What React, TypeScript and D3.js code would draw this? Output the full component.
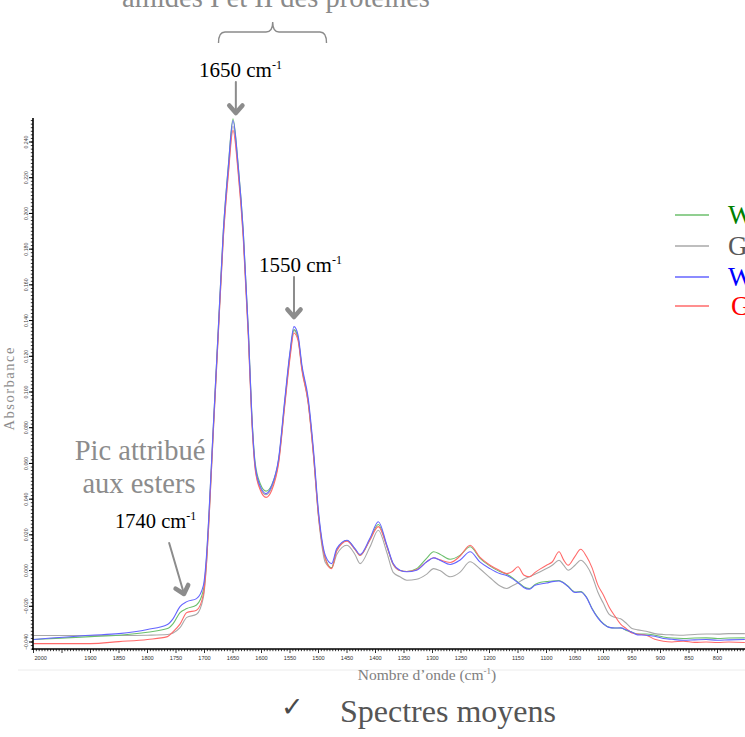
import React, { useEffect, useRef } from "react";
import * as d3 from "d3";

const WAVENUMBERS = [2000, 1900, 1850, 1800, 1765, 1755, 1743, 1731, 1714, 1702, 1696, 1692, 1685, 1676, 1667, 1658, 1650, 1641, 1632, 1623, 1617, 1611, 1602, 1592, 1582, 1570, 1559, 1550, 1543, 1536, 1529, 1518, 1509, 1500, 1496, 1488, 1477, 1468, 1450, 1436, 1427, 1410, 1395, 1380, 1369, 1357, 1345, 1328, 1310, 1298, 1287, 1269, 1252, 1234, 1217, 1199, 1182, 1170, 1160, 1150, 1140, 1130, 1120, 1110, 1100, 1090, 1078, 1070, 1062, 1050, 1040, 1030, 1020, 1010, 1000, 990, 980, 970, 960, 950, 940, 925, 910, 895, 880, 860, 840, 820, 800, 780, 752];

const SERIES_BLUE = [-0.0386, -0.0362, -0.0353, -0.033, -0.0302, -0.0269, -0.0202, -0.0174, -0.0157, -0.0084, 0.0106, 0.033, 0.0778, 0.1338, 0.1898, 0.2268, 0.252, 0.2268, 0.1898, 0.1338, 0.0868, 0.0588, 0.047, 0.0431, 0.0476, 0.0627, 0.0963, 0.1226, 0.1366, 0.132, 0.1148, 0.0963, 0.0683, 0.033, 0.0218, 0.0084, 0.0039, 0.0123, 0.017, 0.0123, 0.009, 0.0179, 0.0273, 0.0142, 0.0039, 0.0002, -0.0007, 0.0002, 0.0049, 0.0071, 0.0058, 0.0034, 0.0058, 0.0105, 0.0049, 0.0011, -0.0017, -0.0028, -0.0045, -0.0068, -0.0095, -0.0105, -0.0082, -0.0075, -0.007, -0.0062, -0.0058, -0.007, -0.009, -0.0122, -0.012, -0.015, -0.0215, -0.0265, -0.03, -0.0318, -0.0322, -0.0321, -0.0332, -0.0346, -0.036, -0.0362, -0.0368, -0.038, -0.0385, -0.039, -0.0388, -0.0386, -0.039, -0.0388, -0.0386];

const SERIES_GREEN = [-0.0386, -0.037, -0.0362, -0.0345, -0.0325, -0.0297, -0.0235, -0.0213, -0.0193, -0.011, 0.009, 0.032, 0.0775, 0.134, 0.19, 0.2275, 0.253, 0.2275, 0.19, 0.134, 0.0875, 0.06, 0.0485, 0.0445, 0.048, 0.062, 0.095, 0.1215, 0.135, 0.1305, 0.1135, 0.0945, 0.0665, 0.0315, 0.0205, 0.007, 0.0015, 0.0115, 0.0168, 0.012, 0.0085, 0.0172, 0.0258, 0.0135, 0.0035, 0.0, -0.0005, 0.001, 0.007, 0.0105, 0.0092, 0.0063, 0.0085, 0.0133, 0.007, 0.0025, -0.0005, -0.002, -0.004, -0.0065, -0.009, -0.01, -0.0078, -0.0065, -0.0062, -0.0058, -0.0056, -0.0068, -0.0088, -0.012, -0.0118, -0.0148, -0.0212, -0.0262, -0.0298, -0.0318, -0.0322, -0.0322, -0.0335, -0.0345, -0.0355, -0.0355, -0.0362, -0.0372, -0.0378, -0.038, -0.0378, -0.0377, -0.038, -0.0378, -0.0377];

const SERIES_RED = [-0.0409, -0.0409, -0.0398, -0.0386, -0.037, -0.0342, -0.03, -0.0235, -0.0222, -0.0134, 0.0067, 0.029, 0.075, 0.131, 0.186, 0.2225, 0.2465, 0.223, 0.186, 0.13, 0.084, 0.0565, 0.045, 0.041, 0.045, 0.06, 0.093, 0.119, 0.133, 0.129, 0.112, 0.0935, 0.065, 0.0305, 0.02, 0.0065, 0.0011, 0.011, 0.0165, 0.0118, 0.0085, 0.017, 0.0246, 0.0135, 0.0035, 0.0, -0.0005, 0.0005, 0.005, 0.0072, 0.006, 0.0045, 0.008, 0.0142, 0.0075, 0.003, 0.0, -0.0017, -0.0005, 0.0021, -0.0025, -0.0035, -0.001, 0.0011, 0.003, 0.0048, 0.0105, 0.006, 0.003, 0.008, 0.0119, 0.008, 0.0015, -0.008, -0.0138, -0.0205, -0.0255, -0.03, -0.0325, -0.035, -0.0356, -0.0362, -0.0385, -0.0396, -0.04, -0.0395, -0.0402, -0.04, -0.0403, -0.04, -0.0403];

const SERIES_GRAY = [-0.0364, -0.0364, -0.0364, -0.0362, -0.0358, -0.035, -0.032, -0.0262, -0.0245, -0.015, 0.006, 0.029, 0.075, 0.1315, 0.187, 0.224, 0.249, 0.2245, 0.1875, 0.1315, 0.085, 0.0575, 0.046, 0.0425, 0.0465, 0.061, 0.094, 0.1205, 0.1345, 0.13, 0.113, 0.094, 0.0655, 0.03, 0.0185, 0.0045, 0.0015, 0.009, 0.0142, 0.009, 0.0039, 0.013, 0.0226, 0.01, -0.001, -0.0035, -0.0054, -0.0049, -0.002, 0.0011, 0.0, -0.0035, -0.001, 0.0049, 0.001, -0.004, -0.0085, -0.01, -0.0085, -0.0068, -0.0048, -0.0035, -0.002, -0.0005, 0.0011, 0.003, 0.0058, 0.003, 0.0002, 0.003, 0.0058, 0.003, -0.003, -0.012, -0.0185, -0.0245, -0.0262, -0.027, -0.0295, -0.0325, -0.0332, -0.034, -0.0353, -0.0358, -0.036, -0.0362, -0.0358, -0.0355, -0.0356, -0.0353, -0.0353];

const Y_TICKS = [-0.04, -0.02, 0.0, 0.02, 0.04, 0.06, 0.08, 0.1, 0.12, 0.14, 0.16, 0.18, 0.2, 0.22, 0.24];
const X_TICK_LABELS = [2000, 1900, 1850, 1800, 1750, 1700, 1650, 1600, 1550, 1500, 1450, 1400, 1350, 1300, 1250, 1200, 1150, 1100, 1050, 1000, 950, 900, 850, 800];

const LEGEND_LABELS = ["W", "G", "W", "G"];
const LEGEND_TEXT_COLORS = ["#008000", "#595959", "#0000ff", "#ff0000"];
const LINE_COLORS = ["#6cbf6c", "#a8a8a8", "#6464ff", "#ff6a6a"];

const W = 745;
const H = 737;
const SERIF = "'Liberation Serif', 'Times New Roman', serif";
const SANS = "'Liberation Sans', Arial, sans-serif";

export default function App() {
  const axRef = useRef<SVGGElement | null>(null);

  const x = d3.scaleLinear().domain([2000, 750]).range([33.5, 746]);
  const y = d3.scaleLinear().domain([-0.04, 0.24]).range([642, 142]);

  const series = [SERIES_GREEN, SERIES_GRAY, SERIES_BLUE, SERIES_RED];
  const drawOrder = [1, 0, 3, 2];

  const line = d3
    .line<[number, number]>()
    .x((d) => x(d[0]))
    .y((d) => y(d[1]))
    .curve(d3.curveMonotoneX);

  useEffect(() => {
    const g = d3.select(axRef.current);
    g.selectAll("*").remove();
    // x axis
    const xMinor = d3.range(2000, 749, -5);
    const xa = g.append("g").attr("transform", "translate(0,649)");
    xa.append("line").attr("x1", 32).attr("x2", 745).attr("stroke", "#000").attr("stroke-width", 1.6);
    xa.selectAll("line.minor")
      .data(xMinor)
      .enter()
      .append("line")
      .attr("x1", (d) => x(d))
      .attr("x2", (d) => x(d))
      .attr("y1", 0)
      .attr("y2", (d) => (d % 50 === 0 ? 4 : 2.2))
      .attr("stroke", "#000")
      .attr("stroke-width", 0.8);
    xa.selectAll("text")
      .data(X_TICK_LABELS)
      .enter()
      .append("text")
      .attr("x", (d) => (d === 2000 ? x(d) + 1 : x(d)))
      .attr("y", 11)
      .attr("text-anchor", (d) => (d === 2000 ? "start" : "middle"))
      .attr("font-family", SANS)
      .attr("font-size", 5.6)
      .attr("fill", "#333")
      .text((d) => String(d));

    // y axis
    const ya = g.append("g").attr("transform", "translate(33,0)");
    ya.append("line").attr("y1", 118).attr("y2", 650).attr("stroke", "#000").attr("stroke-width", 1.6);
    const yMinor = d3.range(-0.044, 0.2535, 0.002);
    ya.selectAll("line.minor")
      .data(yMinor)
      .enter()
      .append("line")
      .attr("y1", (d) => y(d))
      .attr("y2", (d) => y(d))
      .attr("x1", 0)
      .attr("x2", -2.2)
      .attr("stroke", "#000")
      .attr("stroke-width", 0.8);
    ya.selectAll("line.major")
      .data(Y_TICKS)
      .enter()
      .append("line")
      .attr("y1", (d) => y(d))
      .attr("y2", (d) => y(d))
      .attr("x1", 0)
      .attr("x2", -4)
      .attr("stroke", "#000")
      .attr("stroke-width", 1);
    const fmt = d3.format(".3f");
    ya.selectAll("text")
      .data(Y_TICKS)
      .enter()
      .append("text")
      .attr("transform", (d) => `translate(-5.5,${y(d)}) rotate(-90)`)
      .attr("text-anchor", "middle")
      .attr("font-family", SANS)
      .attr("font-size", 5.2)
      .attr("fill", "#444")
      .text((d) => fmt(d));
  }, []);

  const arrowHead = (tx: number, ty: number, dx: number, dy: number, len: number, spread: number) => {
    const a = Math.atan2(dy, dx);
    const p1 = [tx - len * Math.cos(a - spread), ty - len * Math.sin(a - spread)];
    const p2 = [tx - len * Math.cos(a + spread), ty - len * Math.sin(a + spread)];
    return `M${p1[0]},${p1[1]} L${tx},${ty} L${p2[0]},${p2[1]}`;
  };

  const a1650x = x(1645);
  const a1550x = x(1543);
  const a1740tip: [number, number] = [x(1736), 594];
  const a1740tail: [number, number] = [x(1762), 543];

  const legendY = [215, 246, 277, 306];

  return (
    <svg
      width={W}
      height={H}
      style={{ position: "absolute", left: 0, top: 0, background: "#fff", overflow: "hidden" }}
    >
      <rect width={W} height={H} fill="#fff" />
      {/* title (cut off at the top, as in the source slide) */}
      <text x={276} y={7} textAnchor="middle" fontFamily={SERIF} fontSize={28.5} fill="#8a8a8a">
        amides I et II des protéines
      </text>
      <path
        d="M218.5,43 Q218.5,32 225,32 L266,32 Q272.7,32 272.7,22 Q272.7,32 279,32 L320,32 Q326.5,32 326.5,43"
        fill="none"
        stroke="#8a8a8a"
        strokeWidth={1.4}
      />
      <text x={199} y={77} fontFamily={SERIF} fontSize={21} fill="#000">
        1650 cm<tspan fontSize={12} dy={-8}>-1</tspan>
      </text>
      <text x={259} y={272} fontFamily={SERIF} fontSize={21} fill="#000">
        1550 cm<tspan fontSize={12} dy={-8}>-1</tspan>
      </text>
      <text x={115} y={528} fontFamily={SERIF} fontSize={20.5} fill="#000">
        1740 cm<tspan fontSize={12} dy={-8}>-1</tspan>
      </text>
      <text x={140} y={460} textAnchor="middle" fontFamily={SERIF} fontSize={28.5} fill="#8c8c8c">
        Pic attribué
      </text>
      <text x={139} y={493} textAnchor="middle" fontFamily={SERIF} fontSize={28.5} fill="#8c8c8c">
        aux esters
      </text>

      {/* arrows */}
      <g stroke="#8c8c8c" fill="none" strokeLinecap="round" strokeLinejoin="round">
        <line x1={a1650x} y1={82} x2={a1650x} y2={110} strokeWidth={2} />
        <path d={arrowHead(a1650x, 113, 0, 1, 10, 0.72)} strokeWidth={4.5} />
        <line x1={a1550x} y1={277} x2={a1550x} y2={314} strokeWidth={2} />
        <path d={arrowHead(a1550x, 317, 0, 1, 10, 0.72)} strokeWidth={4.5} />
        <line x1={a1740tail[0]} y1={a1740tail[1]} x2={a1740tip[0] - 0.8} y2={a1740tip[1] - 3} strokeWidth={2} />
        <path
          d={arrowHead(a1740tip[0], a1740tip[1], a1740tip[0] - a1740tail[0], a1740tip[1] - a1740tail[1], 10, 0.72)}
          strokeWidth={4.5}
        />
      </g>

      {/* spectra */}
      <g fill="none" strokeWidth={1.1} strokeLinejoin="round">
        {drawOrder.map((i) => (
          <path
            key={i}
            d={line(WAVENUMBERS.map((v, k) => [v, series[i][k]] as [number, number])) || ""}
            stroke={LINE_COLORS[i]}
          />
        ))}
      </g>

      {/* axes */}
      <g ref={axRef} />

      {/* separator and axis titles */}
      <line x1={18} x2={745} y1={670} y2={670} stroke="#ececec" strokeWidth={1} />
      <text x={427} y={680} textAnchor="middle" fontFamily={SERIF} fontSize={15.5} fill="#808080">
        Nombre d’onde (cm<tspan fontSize={9} dy={-6}>-1</tspan>
        <tspan dy={6}>)</tspan>
      </text>
      <text
        transform="translate(14,389) rotate(-90)"
        textAnchor="middle"
        fontFamily={SERIF}
        fontSize={14.5}
        fill="#8c8c8c"
        textLength={83}
        lengthAdjust="spacing"
      >
        Absorbance
      </text>

      {/* legend (cut off at the right edge, as in the source slide) */}
      {LEGEND_LABELS.map((lab, i) => (
        <g key={i}>
          <line x1={675} x2={709} y1={legendY[i]} y2={legendY[i]} stroke={LINE_COLORS[i]} strokeWidth={1.6} />
          <text x={i === 3 ? 731 : 728} y={legendY[i] + 9} fontFamily={SERIF} fontSize={27} fill={LEGEND_TEXT_COLORS[i]}>
            {lab}
          </text>
        </g>
      ))}

      {/* bottom caption */}
      <text x={281} y={716} fontFamily={"'DejaVu Sans', sans-serif"} fontSize={27} fill="#4a4a4a">
        ✓
      </text>
      <text x={340} y={722} fontFamily={SERIF} fontSize={32} fill="#555">
        Spectres moyens
      </text>
    </svg>
  );
}
